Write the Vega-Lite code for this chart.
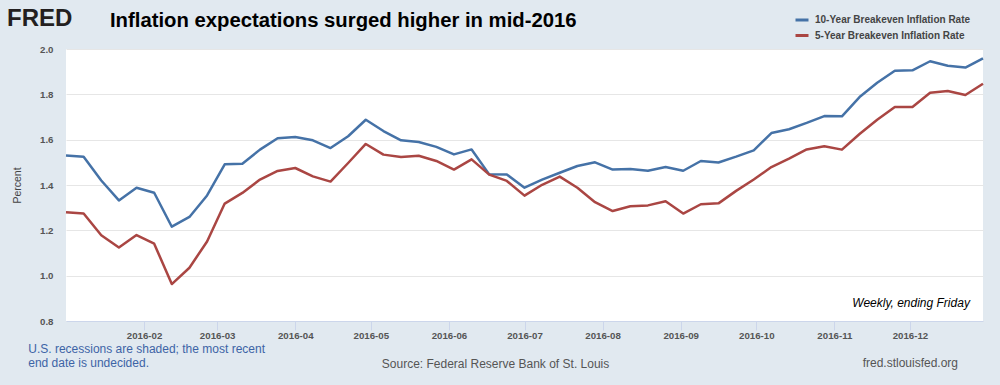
{
  "$schema": "https://vega.github.io/schema/vega-lite/v6.json",
  "width": 917,
  "height": 272,
  "autosize": "none",
  "padding": {"left": 66, "top": 49, "right": 17, "bottom": 64},
  "background": "#e1e9f0",
  "config": {
    "view": {"fill": "white", "stroke": null},
    "font": "Liberation Sans",
    "legend": {
      "orient": "none",
      "legendX": 728,
      "legendY": -37,
      "padding": 0,
      "symbolType": "stroke",
      "symbolStrokeWidth": 3,
      "symbolSize": 169,
      "labelFont": "Liberation Sans",
      "labelFontSize": 10,
      "labelFontWeight": "bold",
      "labelColor": "#444444",
      "labelOffset": 5,
      "rowPadding": 1.5
    }
  },
  "datasets": {
    "rates": [
      {"date": "2016-01-01", "t10": 1.53, "t5": 1.28},
      {"date": "2016-01-08", "t10": 1.525, "t5": 1.274},
      {"date": "2016-01-15", "t10": 1.42, "t5": 1.178},
      {"date": "2016-01-22", "t10": 1.332, "t5": 1.124},
      {"date": "2016-01-29", "t10": 1.388, "t5": 1.179},
      {"date": "2016-02-05", "t10": 1.366, "t5": 1.141},
      {"date": "2016-02-12", "t10": 1.216, "t5": 0.963},
      {"date": "2016-02-19", "t10": 1.259, "t5": 1.035},
      {"date": "2016-02-26", "t10": 1.354, "t5": 1.151},
      {"date": "2016-03-04", "t10": 1.491, "t5": 1.318},
      {"date": "2016-03-11", "t10": 1.494, "t5": 1.365},
      {"date": "2016-03-18", "t10": 1.556, "t5": 1.424},
      {"date": "2016-03-25", "t10": 1.606, "t5": 1.462},
      {"date": "2016-04-01", "t10": 1.612, "t5": 1.475},
      {"date": "2016-04-08", "t10": 1.597, "t5": 1.438},
      {"date": "2016-04-15", "t10": 1.563, "t5": 1.415},
      {"date": "2016-04-22", "t10": 1.615, "t5": 1.497},
      {"date": "2016-04-29", "t10": 1.688, "t5": 1.581},
      {"date": "2016-05-06", "t10": 1.638, "t5": 1.534},
      {"date": "2016-05-13", "t10": 1.597, "t5": 1.524},
      {"date": "2016-05-20", "t10": 1.59, "t5": 1.529},
      {"date": "2016-05-27", "t10": 1.568, "t5": 1.506},
      {"date": "2016-06-03", "t10": 1.535, "t5": 1.468},
      {"date": "2016-06-10", "t10": 1.557, "t5": 1.513},
      {"date": "2016-06-17", "t10": 1.447, "t5": 1.446},
      {"date": "2016-06-24", "t10": 1.446, "t5": 1.418},
      {"date": "2016-07-01", "t10": 1.388, "t5": 1.353},
      {"date": "2016-07-08", "t10": 1.424, "t5": 1.401},
      {"date": "2016-07-15", "t10": 1.454, "t5": 1.437},
      {"date": "2016-07-22", "t10": 1.484, "t5": 1.388},
      {"date": "2016-07-29", "t10": 1.5, "t5": 1.324},
      {"date": "2016-08-05", "t10": 1.468, "t5": 1.285},
      {"date": "2016-08-12", "t10": 1.471, "t5": 1.306},
      {"date": "2016-08-19", "t10": 1.463, "t5": 1.31},
      {"date": "2016-08-26", "t10": 1.479, "t5": 1.328},
      {"date": "2016-09-02", "t10": 1.463, "t5": 1.274},
      {"date": "2016-09-09", "t10": 1.506, "t5": 1.315},
      {"date": "2016-09-16", "t10": 1.499, "t5": 1.319},
      {"date": "2016-09-23", "t10": 1.525, "t5": 1.374},
      {"date": "2016-09-30", "t10": 1.553, "t5": 1.424},
      {"date": "2016-10-07", "t10": 1.629, "t5": 1.479},
      {"date": "2016-10-14", "t10": 1.646, "t5": 1.516},
      {"date": "2016-10-21", "t10": 1.674, "t5": 1.557},
      {"date": "2016-10-28", "t10": 1.704, "t5": 1.571},
      {"date": "2016-11-04", "t10": 1.703, "t5": 1.556},
      {"date": "2016-11-11", "t10": 1.788, "t5": 1.625},
      {"date": "2016-11-18", "t10": 1.851, "t5": 1.688},
      {"date": "2016-11-25", "t10": 1.904, "t5": 1.744},
      {"date": "2016-12-02", "t10": 1.906, "t5": 1.744},
      {"date": "2016-12-09", "t10": 1.946, "t5": 1.807},
      {"date": "2016-12-16", "t10": 1.926, "t5": 1.815},
      {"date": "2016-12-23", "t10": 1.918, "t5": 1.797},
      {"date": "2016-12-30", "t10": 1.959, "t5": 1.847}
    ],
    "one": [{}]
  },
  "layer": [
    {
      "data": {"name": "rates"},
      "transform": [{"fold": ["t10", "t5"], "as": ["series", "value"]}],
      "mark": {"type": "line", "strokeWidth": 2.5, "strokeJoin": "round"},
      "encoding": {
        "x": {
          "field": "date",
          "type": "temporal",
          "scale": {
            "type": "utc",
            "domain": [
              {"year": 2016, "month": 1, "date": 1, "utc": true},
              {"year": 2016, "month": 12, "date": 30, "utc": true}
            ]
          },
          "axis": {
            "values": [
              {"year": 2016, "month": 2, "date": 1, "utc": true},
              {"year": 2016, "month": 3, "date": 1, "utc": true},
              {"year": 2016, "month": 4, "date": 1, "utc": true},
              {"year": 2016, "month": 5, "date": 1, "utc": true},
              {"year": 2016, "month": 6, "date": 1, "utc": true},
              {"year": 2016, "month": 7, "date": 1, "utc": true},
              {"year": 2016, "month": 8, "date": 1, "utc": true},
              {"year": 2016, "month": 9, "date": 1, "utc": true},
              {"year": 2016, "month": 10, "date": 1, "utc": true},
              {"year": 2016, "month": 11, "date": 1, "utc": true},
              {"year": 2016, "month": 12, "date": 1, "utc": true}
            ],
            "labelExpr": "utcFormat(datum.value, '%Y-%m')",
            "grid": false,
            "domainColor": "#ccd6eb",
            "tickColor": "#ccd6eb",
            "tickSize": 9,
            "labelPadding": 0,
            "labelFont": "Liberation Sans",
            "labelFontSize": 9.7,
            "labelFontWeight": "bold",
            "labelColor": "#555555",
            "labelFlush": false,
            "labelOverlap": false,
            "title": "Source: Federal Reserve Bank of St. Louis",
            "titleX": 429,
            "titleY": 42,
            "titleAlign": "center",
            "titleBaseline": "middle",
            "titleFont": "Liberation Sans",
            "titleFontSize": 12,
            "titleFontWeight": "normal",
            "titleColor": "#555555"
          }
        },
        "y": {
          "field": "value",
          "type": "quantitative",
          "scale": {"domain": [0.8, 2.0], "zero": false, "nice": false},
          "axis": {
            "values": [0.8, 1.0, 1.2, 1.4, 1.6, 1.8, 2.0],
            "format": ".1f",
            "domain": false,
            "ticks": false,
            "gridColor": "#e6e6e6",
            "gridWidth": 1,
            "labelPadding": 13,
            "labelFont": "Liberation Sans",
            "labelFontSize": 9.7,
            "labelFontWeight": "bold",
            "labelColor": "#555555",
            "title": "Percent",
            "titleX": -49,
            "titleY": 136,
            "titleAngle": -90,
            "titleAlign": "center",
            "titleBaseline": "middle",
            "titleFont": "Liberation Sans",
            "titleFontSize": 10.5,
            "titleFontWeight": "normal",
            "titleColor": "#444444"
          }
        },
        "color": {
          "field": "series",
          "type": "nominal",
          "scale": {"domain": ["t10", "t5"], "range": ["#4572a7", "#aa4643"]},
          "legend": {
            "title": null,
            "labelExpr": "datum.label == 't10' ? '10-Year Breakeven Inflation Rate' : '5-Year Breakeven Inflation Rate'"
          }
        }
      }
    },
    {
      "data": {"name": "one"},
      "mark": {"type": "text", "text": "Inflation expectations surged higher in mid-2016", "align": "left", "baseline": "alphabetic", "font": "Liberation Sans", "fontSize": 20.3, "fontWeight": "bold", "color": "#000000"},
      "encoding": {
        "x": {"datum": {"year": 2016, "month": 1, "date": 18, "hours": 11, "utc": true}, "type": "temporal"},
        "y": {"datum": 2.097, "type": "quantitative"}
      }
    },
    {
      "data": {"name": "one"},
      "mark": {"type": "text", "text": "Weekly, ending Friday", "align": "right", "baseline": "middle", "font": "Liberation Sans", "fontSize": 12, "fontStyle": "italic", "color": "#000000"},
      "encoding": {
        "x": {"datum": {"year": 2016, "month": 12, "date": 24, "hours": 19, "utc": true}, "type": "temporal"},
        "y": {"datum": 0.879, "type": "quantitative"}
      }
    },
    {
      "data": {"name": "one"},
      "mark": {"type": "text", "text": "FRED", "align": "left", "baseline": "alphabetic", "font": "Liberation Sans", "fontSize": 24, "fontWeight": 900, "color": "#231f20"},
      "encoding": {
        "x": {"datum": {"year": 2015, "month": 12, "date": 8, "hours": 14, "utc": true}, "type": "temporal"},
        "y": {"datum": 2.1015, "type": "quantitative"}
      }
    },
    {
      "data": {"name": "one"},
      "mark": {"type": "text", "text": "U.S. recessions are shaded; the most recent", "align": "left", "baseline": "middle", "font": "Liberation Sans", "fontSize": 12, "color": "#3d64a6"},
      "encoding": {
        "x": {"datum": {"year": 2015, "month": 12, "date": 17, "utc": true}, "type": "temporal"},
        "y": {"datum": 0.6765, "type": "quantitative"}
      }
    },
    {
      "data": {"name": "one"},
      "mark": {"type": "text", "text": "end date is undecided.", "align": "left", "baseline": "middle", "font": "Liberation Sans", "fontSize": 12, "color": "#3d64a6"},
      "encoding": {
        "x": {"datum": {"year": 2015, "month": 12, "date": 17, "utc": true}, "type": "temporal"},
        "y": {"datum": 0.6134, "type": "quantitative"}
      }
    },
    {
      "data": {"name": "one"},
      "mark": {"type": "text", "text": "fred.stlouisfed.org", "align": "right", "baseline": "middle", "font": "Liberation Sans", "fontSize": 12, "color": "#555555"},
      "encoding": {
        "x": {"datum": {"year": 2016, "month": 12, "date": 20, "hours": 2, "utc": true}, "type": "temporal"},
        "y": {"datum": 0.6134, "type": "quantitative"}
      }
    }
  ]
}
